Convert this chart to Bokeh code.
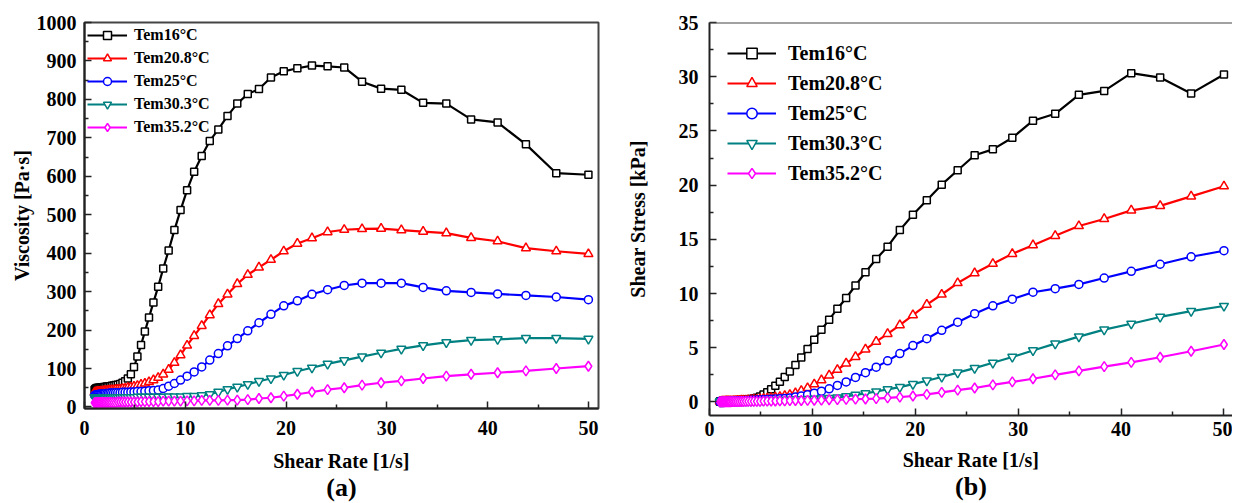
from bokeh.plotting import figure
from bokeh.layouts import row
from bokeh.models import Range1d, FixedTicker, Title, Span
from bokeh.embed import file_html
from bokeh.resources import INLINE

# ---------------- data ----------------
shear_rate = [1.00, 1.07, 1.14, 1.22, 1.30, 1.39, 1.49, 1.59, 1.70, 1.82, 1.94, 2.07, 2.22, 2.37, 2.53,
              2.70, 2.89, 3.09, 3.30, 3.53, 3.77, 4.03, 4.30, 4.60, 4.91, 5.25, 5.61, 5.99, 6.40, 6.84,
              7.31, 7.81, 8.35, 8.92, 9.53, 10.18, 10.88, 11.63, 12.43, 13.28, 14.19, 15.16, 16.20, 17.31,
              18.50, 19.77, 21.12, 22.57, 24.12, 25.77, 27.54, 29.43, 31.44, 33.60, 35.90, 38.36, 40.99,
              43.80, 46.81, 50.00]

series_labels = ["Tem16°C", "Tem20.8°C", "Tem25°C", "Tem30.3°C", "Tem35.2°C"]

visc_16 = [45, 47, 48, 49, 49, 50, 50, 50, 51, 51, 52, 52, 53, 53, 54, 55, 56, 57, 58, 60, 63, 67, 74, 85,
           104, 131, 161, 196, 233, 272, 313, 360, 407, 460, 512, 564, 612, 653, 692, 722, 757, 789, 814,
           827, 857, 873, 881, 888, 886, 883, 846, 828, 825, 791, 789, 748, 740, 683, 608, 604]
visc_208 = [38, 38, 39, 39, 40, 40, 40, 41, 41, 41, 42, 42, 42, 43, 43, 44, 44, 45, 45, 46, 47, 48, 50, 51,
            53, 55, 58, 61, 65, 70, 76, 85, 97, 115, 135, 160, 185, 211, 239, 268, 293, 320, 344, 363, 383,
            405, 425, 439, 455, 461, 463, 464, 460, 456, 452, 440, 431, 413, 405, 398]
visc_25 = [30, 31, 31, 32, 32, 33, 33, 33, 34, 34, 34, 35, 35, 35, 36, 36, 36, 37, 37, 37, 38, 38, 38, 39,
           39, 40, 40, 41, 42, 43, 44, 48, 54, 61, 70, 80, 91, 104, 122, 139, 159, 178, 198, 219, 241, 263,
           276, 293, 305, 316, 322, 322, 322, 311, 302, 298, 294, 290, 286, 279]
visc_303 = [25, 25, 25, 25, 25, 25, 25, 25, 25, 25, 25, 25, 25, 25, 25, 25, 25, 25, 25, 25, 25, 25, 25, 25,
            25, 26, 26, 26, 26, 26, 26, 26, 27, 27, 27, 28, 28, 30, 33, 39, 46, 52, 59, 67, 74, 83, 93, 102,
            112, 121, 131, 141, 151, 160, 168, 174, 176, 179, 179, 177]
visc_352 = [11, 11, 11, 11, 12, 12, 12, 12, 12, 12, 12, 12, 12, 12, 12, 12, 12, 12, 13, 13, 13, 13, 13, 13,
            13, 13, 14, 14, 14, 14, 14, 15, 15, 15, 15, 16, 16, 17, 17, 17, 18, 18, 19, 22, 24, 28, 33, 39,
            45, 50, 57, 63, 68, 74, 80, 85, 89, 94, 100, 106]

stress_16 = [0.05, 0.05, 0.05, 0.06, 0.06, 0.07, 0.07, 0.08, 0.09, 0.09, 0.10, 0.11, 0.12, 0.13, 0.14, 0.15,
             0.16, 0.18, 0.19, 0.21, 0.24, 0.27, 0.32, 0.39, 0.51, 0.69, 0.90, 1.17, 1.49, 1.86, 2.29, 2.81,
             3.40, 4.10, 4.88, 5.74, 6.66, 7.59, 8.60, 9.59, 10.74, 11.96, 13.19, 14.32, 15.85, 17.26, 18.61,
             20.04, 21.37, 22.76, 23.30, 24.37, 25.94, 26.58, 28.33, 28.69, 30.33, 29.92, 28.46, 30.20]
stress_208 = [0.04, 0.04, 0.04, 0.05, 0.05, 0.06, 0.06, 0.07, 0.07, 0.07, 0.08, 0.09, 0.09, 0.10, 0.11, 0.12,
              0.13, 0.14, 0.15, 0.16, 0.18, 0.19, 0.22, 0.23, 0.26, 0.29, 0.33, 0.37, 0.42, 0.48, 0.56, 0.66,
              0.81, 1.03, 1.29, 1.63, 2.01, 2.45, 2.97, 3.56, 4.16, 4.85, 5.57, 6.28, 7.09, 8.01, 8.98, 9.91,
              10.97, 11.88, 12.75, 13.66, 14.46, 15.32, 16.23, 16.88, 17.67, 18.09, 18.96, 19.90]
stress_25 = [0.03, 0.03, 0.04, 0.04, 0.04, 0.05, 0.05, 0.05, 0.06, 0.06, 0.07, 0.07, 0.08, 0.08, 0.09, 0.10,
             0.10, 0.11, 0.12, 0.13, 0.14, 0.15, 0.16, 0.18, 0.19, 0.21, 0.22, 0.25, 0.27, 0.29, 0.32, 0.37,
             0.45, 0.54, 0.67, 0.81, 0.99, 1.21, 1.52, 1.85, 2.26, 2.70, 3.21, 3.79, 4.46, 5.20, 5.83, 6.61,
             7.36, 8.14, 8.87, 9.48, 10.12, 10.45, 10.84, 11.43, 12.05, 12.70, 13.39, 13.95]
stress_303 = [0.03, 0.03, 0.03, 0.03, 0.03, 0.03, 0.04, 0.04, 0.04, 0.05, 0.05, 0.05, 0.06, 0.06, 0.06, 0.07,
              0.07, 0.08, 0.08, 0.09, 0.09, 0.10, 0.11, 0.12, 0.12, 0.14, 0.15, 0.16, 0.17, 0.18, 0.19, 0.20,
              0.23, 0.24, 0.26, 0.29, 0.30, 0.35, 0.41, 0.52, 0.65, 0.79, 0.96, 1.16, 1.37, 1.64, 1.96, 2.30,
              2.70, 3.12, 3.61, 4.15, 4.75, 5.38, 6.03, 6.67, 7.21, 7.84, 8.38, 8.85]
stress_352 = [0.01, 0.01, 0.01, 0.01, 0.02, 0.02, 0.02, 0.02, 0.02, 0.02, 0.02, 0.02, 0.03, 0.03, 0.03, 0.03,
              0.03, 0.04, 0.04, 0.05, 0.05, 0.05, 0.06, 0.06, 0.06, 0.07, 0.08, 0.08, 0.09, 0.10, 0.10, 0.12,
              0.13, 0.13, 0.14, 0.16, 0.17, 0.20, 0.21, 0.23, 0.26, 0.27, 0.31, 0.38, 0.44, 0.55, 0.70, 0.88,
              1.09, 1.29, 1.57, 1.85, 2.14, 2.49, 2.87, 3.26, 3.65, 4.12, 4.68, 5.30]

x_major = [0, 10, 20, 30, 40, 50]
x_minor = [5, 15, 25, 35, 45]
visc_major = [0, 100, 200, 300, 400, 500, 600, 700, 800, 900, 1000]
visc_minor = [50, 150, 250, 350, 450, 550, 650, 750, 850, 950]
stress_major = [0, 5, 10, 15, 20, 25, 30, 35]
stress_minor = [2.5, 7.5, 12.5, 17.5, 22.5, 27.5, 32.5]

# ---------------- style ----------------
FONT = "Liberation Serif"
colors = ["#000000", "#ff0000", "#0000ff", "#008080", "#ff00ff"]
markers = ["square", "triangle", "circle", "inverted_triangle", "diamond"]
msizes = [7, 9, 8, 9, 10]


def style_axes(p, tick_standoff_x, tick_standoff_y, als_x, als_y):
    for ax in (p.xaxis[0], p.yaxis[0]):
        ax.major_tick_in = 7
        ax.major_tick_out = 0
        ax.minor_tick_in = 4
        ax.minor_tick_out = 0
        ax.axis_line_width = 2
        ax.axis_line_color = "#222222"
        ax.major_tick_line_width = 1.5
        ax.minor_tick_line_width = 1.5
        ax.major_tick_line_color = "#222222"
        ax.minor_tick_line_color = "#222222"
        ax.major_label_text_font = FONT
        ax.major_label_text_font_style = "bold"
        ax.major_label_text_font_size = "20px"
        ax.major_label_text_color = "#000000"
        ax.axis_label_text_font = FONT
        ax.axis_label_text_font_style = "bold"
        ax.axis_label_text_font_size = "20px"
        ax.axis_label_text_color = "#000000"
    p.xaxis[0].major_label_standoff = tick_standoff_x
    p.yaxis[0].major_label_standoff = tick_standoff_y
    p.xaxis[0].axis_label_standoff = als_x
    p.yaxis[0].axis_label_standoff = als_y
    p.xgrid.visible = False
    p.ygrid.visible = False


def style_legend(p, margin, padding, gw, gh, spacing, standoff, fsize):
    lg = p.legend[0]
    lg.location = "top_left"
    lg.margin = margin
    lg.padding = padding
    lg.glyph_width = gw
    lg.glyph_height = gh
    lg.label_height = gh
    lg.spacing = spacing
    lg.label_standoff = standoff
    lg.label_text_font = FONT
    lg.label_text_font_style = "bold"
    lg.label_text_font_size = fsize
    lg.label_text_color = "#000000"
    lg.background_fill_alpha = 0
    lg.border_line_alpha = 0


def panel_tag(p, text):
    p.add_layout(Title(text=text, align="center", vertical_align="middle", standoff=-6,
                       text_font=FONT, text_font_size="26px", text_font_style="bold",
                       text_color="#000000"), "below")


# ---------------- panel (a) ----------------
pa = figure(frame_width=514, frame_height=386, min_border_left=84, min_border_right=22,
            min_border_top=21, min_border_bottom=95,
            x_range=Range1d(0, 51), y_range=Range1d(-4, 1000),
            output_backend="svg", toolbar_location=None,
            x_axis_label="Shear Rate [1/s]", y_axis_label="Viscosity [Pa·s]")
pa.outline_line_color = "#444444"
pa.outline_line_width = 2
pa.xaxis[0].ticker = FixedTicker(ticks=x_major, minor_ticks=x_minor)
pa.yaxis[0].ticker = FixedTicker(ticks=visc_major, minor_ticks=visc_minor)
style_axes(pa, 12, 8, 12, 1)

for ys, lab, c, m, s in zip([visc_16, visc_208, visc_25, visc_303, visc_352], series_labels, colors, markers, msizes):
    pa.line(shear_rate, ys, line_color=c, line_width=2.2, legend_label=lab)
    pa.scatter(shear_rate, ys, marker=m, size=s, fill_color="white", line_color=c, line_width=1.5,
               legend_label=lab)

style_legend(pa, 0, 3, 40, 20, 3, 7, "16px")
panel_tag(pa, "(a)")

# ---------------- panel (b) ----------------
pb = figure(frame_width=523, frame_height=393, min_border_left=89, min_border_right=0,
            min_border_top=22, min_border_bottom=87,
            x_range=Range1d(0, 50.83), y_range=Range1d(-1.25, 35),
            output_backend="svg", toolbar_location=None,
            x_axis_label="Shear Rate [1/s]", y_axis_label="Shear Stress [kPa]")
pb.outline_line_color = None
pb.add_layout(Span(location=35, dimension="width", line_color="#444444", line_width=2))
pb.xaxis[0].ticker = FixedTicker(ticks=x_major, minor_ticks=x_minor)
pb.yaxis[0].ticker = FixedTicker(ticks=stress_major, minor_ticks=stress_minor)
style_axes(pb, 6, 11, 10, 27)

for ys, lab, c, m, s in zip([stress_16, stress_208, stress_25, stress_303, stress_352], series_labels, colors, markers, msizes):
    pb.line(shear_rate, ys, line_color=c, line_width=2.2, legend_label=lab)
    pb.scatter(shear_rate, ys, marker=m, size=s, fill_color="white", line_color=c, line_width=1.5,
               legend_label=lab)

style_legend(pb, 16, 2, 49, 26, 4, 12, "20px")
panel_tag(pb, "(b)")

layout = row(pa, pb)
open("out.html", "w").write(file_html(layout, INLINE))
